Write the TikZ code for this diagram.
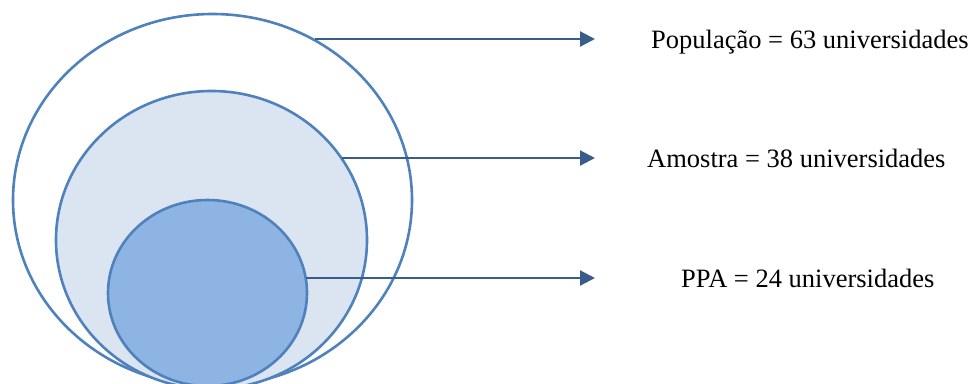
\documentclass[tikz,border=0pt]{standalone}
\usepackage{fontspec}
\setmainfont{Liberation Serif}
\usetikzlibrary{shapes.geometric,arrows.meta}
\definecolor{edgeblue}{HTML}{4F81BD}
\definecolor{arrowblue}{HTML}{385D8A}
\definecolor{lightfill}{HTML}{DBE5F1}
\definecolor{midfill}{HTML}{8EB4E3}
\tikzset{
  circ/.style={ellipse, draw=edgeblue, line width=2.6pt, inner sep=0pt},
  pointer/.style={draw=arrowblue, line width=2.2pt, -{Triangle[length=15pt,width=15pt]}},
  label/.style={anchor=base west, font=\fontsize{26.5}{30}\selectfont, inner sep=0pt}
}
\begin{document}
\begin{tikzpicture}[x=1pt,y=-1pt]
\useasboundingbox (0,0) rectangle (971,383);
\begin{scope}
\clip (0,0) rectangle (971,383);
\node[circ, fill=white, minimum width=399pt, minimum height=372pt] (pop) at (212.5,200) {};
\node[circ, fill=lightfill, minimum width=311pt, minimum height=298pt] (amo) at (211.5,240) {};
\node[circ, fill=midfill, minimum width=199pt, minimum height=186pt] (ppa) at (207.5,293) {};
\end{scope}
\coordinate (s1) at (315,39);
\coordinate (s2) at (342,158);
\coordinate (s3) at (306,278);
\coordinate (e1) at (595,39);
\coordinate (e2) at (595,158);
\coordinate (e3) at (595,278);
\draw[pointer] (s1) -- (e1);
\draw[pointer] (s2) -- (e2);
\draw[pointer] (s3) -- (e3);
\node[label] (t1) at (651,48) {População = 63 universidades};
\node[label] (t2) at (647,167) {Amostra = 38 universidades};
\node[label] (t3) at (681,287) {PPA = 24 universidades};
\end{tikzpicture}
\end{document}
